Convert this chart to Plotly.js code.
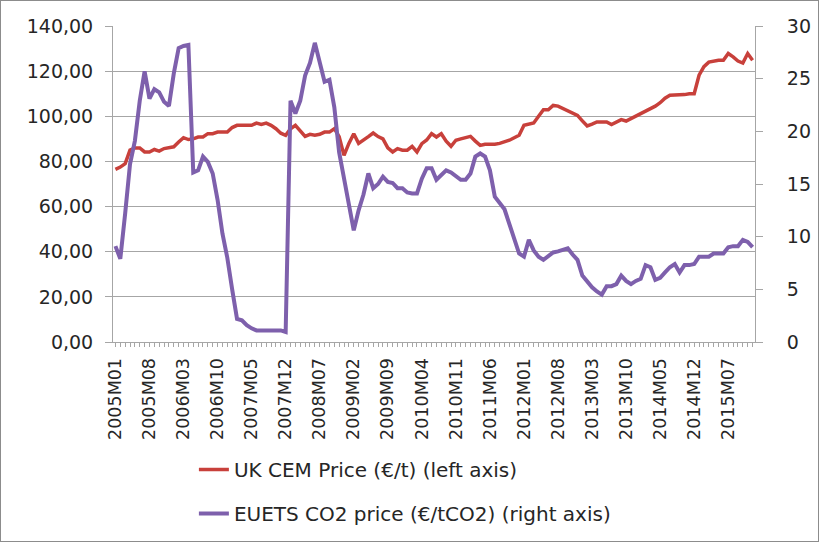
<!DOCTYPE html>
<html>
<head>
<meta charset="utf-8">
<script src="https://cdn.plot.ly/plotly-3.0.1.min.js"></script>
<style>
html,body{margin:0;padding:0;background:#fff;}
#chart{width:817px;height:540px;border:1px solid #8c8c8c;}
</style>
</head>
<body>
<div id="chart"></div>
<script>
// Months 2005M01 .. 2015M12
const months = [];
for (let y = 2005; y <= 2015; y++) {
  for (let m = 1; m <= 12; m++) {
    months.push(y + "M" + (m < 10 ? "0" + m : "" + m));
  }
}

// UK CEM price (EUR/t), left axis
const ukCemPrice = [
  76.5, 77.5, 79, 85, 86, 86, 84.2, 84.2, 85.3, 84.6, 85.7, 86,
  86.5, 88.6, 90.5, 89.7, 90, 90.8, 90.8, 92.3, 92.3, 93, 93, 93,
  95, 96, 96, 96, 96, 97, 96.4, 97, 96, 94.5, 92.5, 91.6,
  94.5, 96, 93.5, 91.1, 92, 91.6, 92, 93, 93, 94.5, 91, 82.7,
  88, 92.3, 88, 89.7, 91, 92.6, 91, 90, 86, 84.2, 85.7, 85,
  85, 86.7, 84.2, 87.9, 89.5, 92.3, 90.8, 92.3, 89, 86.7, 89.4, 90,
  90.5, 91.1, 89, 87.1, 87.6, 87.6, 87.6, 88, 88.5, 89.4, 90.5, 91.6,
  96, 96.5, 97, 100, 102.9, 102.9, 104.8, 104.5, 103.5, 102.2, 101.5, 100.4,
  98, 95.7, 96.5, 97.5, 97.5, 97.5, 96.3, 97.5, 98.5, 97.9, 99, 99.7,
  101, 102, 103, 104.5, 106, 108, 109.3, 109.3, 109.3, 109.6, 110, 110,
  118.2, 122, 124, 124.5, 124.8, 124.8, 127.8, 126.3, 124.5, 123.6, 127.8, 124.8
];

// EU ETS CO2 price (EUR/tCO2), right axis
const euetsCo2Price = [
  9.1, 7.9, 12.2, 16.9, 19.1, 22.9, 25.7, 23.1, 24, 23.7, 22.8, 22.4,
  25.5, 27.9, 28.1, 28.2, 16.1, 16.3, 17.6, 17.1, 16, 13.5, 10.3, 8,
  5, 2.2, 2.06, 1.6, 1.3, 1.1, 1.1, 1.1, 1.1, 1.1, 1.1, 0.95,
  22.9, 21.7, 22.9, 25.3, 26.5, 28.4, 26.5, 24.7, 24.9, 22.3, 18, 15.4,
  13, 10.6, 12.5, 14, 16, 14.6, 15, 15.7, 15.2, 15.1, 14.6, 14.6,
  14.2, 14.1, 14.1, 15.5, 16.5, 16.5, 15.4, 15.8, 16.3, 16.1, 15.7, 15.4,
  15.4, 16, 17.6, 17.9, 17.6, 16.3, 13.8, 13.2, 12.6, 11.2, 9.8, 8.4,
  8.1, 9.7, 8.7, 8.1, 7.8, 8.2, 8.5, 8.6, 8.8, 8.9, 8.3, 7.8,
  6.3, 5.7, 5.2, 4.8, 4.5, 5.3, 5.3, 5.5, 6.3, 5.8, 5.5, 5.8,
  6, 7.3, 7.1, 5.9, 6.1, 6.6, 7.1, 7.4, 6.6, 7.3, 7.3, 7.4,
  8.1, 8.1, 8.1, 8.4, 8.4, 8.4, 9.0, 9.1, 9.1, 9.7, 9.5, 9.0
];

const seriesNames = ["UK CEM Price (€/t) (left axis)", "EUETS CO2 price (€/tCO2) (right axis)"];
const leftTicks = [0, 20, 40, 60, 80, 100, 120, 140];
const rightTicks = [0, 5, 10, 15, 20, 25, 30];
const labelStep = 7;

const tickText = months.map((m, i) => (i % labelStep === 0 ? m : ""));

const FONT = "DejaVu Sans, Open Sans, sans-serif";
const TXT = "#262626";
const GRID = "#a6a6a6";

const traces = [
  {
    x: months, y: ukCemPrice, name: seriesNames[0], type: "scatter", mode: "lines",
    line: {color: "#C8403B", width: 3.5}, yaxis: "y", legendgroup: "a"
  },
  {
    x: months, y: euetsCo2Price, name: seriesNames[1], type: "scatter", mode: "lines",
    line: {color: "#7E60AC", width: 4}, yaxis: "y2", legendgroup: "b"
  }
];

const layout = {
  width: 817, height: 540,
  margin: {l: 112, r: 63, t: 25, b: 199},
  paper_bgcolor: "#fff", plot_bgcolor: "#fff",
  font: {family: FONT, color: TXT, size: 18},
  separators: ", ",
  showlegend: true,
  legend: {
    orientation: "v", x: 0.126, xanchor: "left",
    yref: "container", y: 0.1685, yanchor: "top",
    font: {family: FONT, size: 20, color: TXT},
    tracegroupgap: 15, traceorder: "grouped"
  },
  xaxis: {
    type: "category",
    tickmode: "array", tickvals: months, ticktext: tickText,
    tickangle: -90, tickfont: {size: 17.5, family: FONT, color: TXT},
    ticks: "outside", ticklen: 4, tickcolor: GRID, tickwidth: 1,
    showgrid: false, showline: true, linecolor: GRID, linewidth: 1,
    range: [-0.5, months.length - 0.5], mirror: false, zeroline: false,
    ticklabelstandoff: 4
  },
  yaxis: {
    range: [0, 140], tickvals: leftTicks, tickformat: ".2f",
    showgrid: true, gridcolor: GRID, gridwidth: 1,
    ticks: "outside", ticklen: 7, tickcolor: GRID,
    showline: true, linecolor: GRID, zeroline: false,
    tickfont: {size: 19, family: FONT, color: TXT}, ticklabelstandoff: 8
  },
  yaxis2: {
    range: [0, 30], tickvals: rightTicks, overlaying: "y", side: "right",
    showgrid: false, ticks: "outside", ticklen: 7, tickcolor: GRID,
    showline: true, linecolor: GRID, zeroline: false,
    tickfont: {size: 19, family: FONT, color: TXT}, ticklabelstandoff: 20
  }
};

Plotly.newPlot("chart", traces, layout, {displayModeBar: false, staticPlot: true});
</script>
</body>
</html>
